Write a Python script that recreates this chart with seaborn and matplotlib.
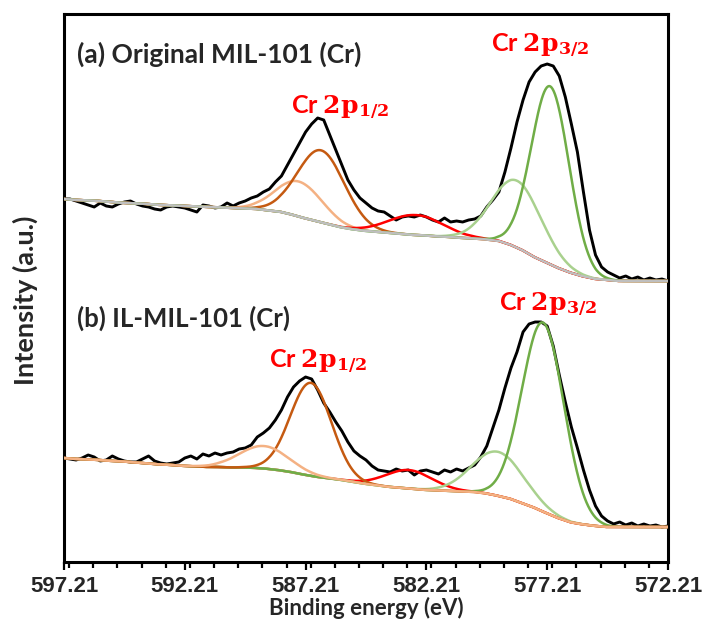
import numpy as np
import matplotlib
matplotlib.use("Agg")
import matplotlib.pyplot as plt
from matplotlib.ticker import MultipleLocator, FixedLocator
import seaborn as sns

# ---------------------------------------------------------------------------
# Cr 2p XPS spectra. Binding energy in eV (plotted high -> low), intensity a.u.
# ---------------------------------------------------------------------------
E_START = 597.21          # first sample of every series
RAW_STEP = 0.25           # spacing of the measured spectra (eV)
BG_STEP = 0.5             # spacing of the background values (eV)

tick_values = [597.21, 592.21, 587.21, 582.21, 577.21, 572.21]
tick_labels = ["597.21", "592.21", "587.21", "582.21", "577.21", "572.21"]

# (a) original MIL-101 (Cr): measured counts
raw_a = [363, 363, 361, 359, 357, 355, 359, 356, 355, 358,
         360, 361, 358, 356, 355, 353, 352, 355, 356, 355,
         354, 352, 350, 357, 356, 354, 355, 359, 356, 359,
         361, 364, 366, 370, 373, 380, 386, 397, 408, 419,
         430, 438, 444, 442, 427, 412, 397, 382, 372, 364,
         359, 354, 351, 350, 346, 342, 345, 346, 345, 347,
         345, 342, 340, 344, 340, 341, 340, 342, 343, 346,
         355, 362, 370, 390, 414, 440, 462, 480, 490, 496,
         498, 496, 486, 465, 438, 410, 370, 332, 307, 295,
         290, 287, 284, 286, 283, 285, 282, 284, 282, 283,
         281]

# (b) IL-MIL-101 (Cr): measured counts
raw_b = [104, 103, 102, 104, 107, 105, 101, 102, 106, 103,
         101, 100, 100, 103, 106, 101, 99, 98, 99, 100,
         104, 106, 103, 108, 106, 109, 107, 109, 110, 113,
         114, 117, 125, 129, 134, 142, 152, 165, 175, 181,
         185, 183, 172, 159, 150, 140, 131, 120, 111, 106,
         102, 96, 92, 91, 90, 93, 91, 92, 87, 91,
         92, 90, 88, 92, 90, 93, 91, 94, 97, 105,
         116, 134, 152, 174, 194, 210, 230, 238, 240, 240,
         236, 216, 187, 160, 135, 114, 92, 72, 56, 46,
         41, 38, 40, 37, 39, 36, 38, 36, 37, 35,
         36]

# Shirley-type backgrounds of the two fits
bg_a = [363, 362, 361.5, 361, 360, 359, 358.5, 358, 357, 356.5,
        356, 355.5, 355, 354.5, 354, 353.5, 353, 351.5, 350, 347,
        343.5, 340.5, 337.5, 334.5, 332.5, 331, 330, 329, 328, 327,
        326.5, 325.5, 325, 324, 323.5, 322.5, 321, 317, 311.5, 304.5,
        299, 293.5, 289, 285.5, 283, 282, 281, 281, 281, 281, 281]
bg_b = [104, 103, 102.5, 102, 101, 100.5, 99.5, 98.5, 97.5, 97,
        96, 95.5, 95, 95, 94.5, 94.5, 94, 93, 91.5, 89.5,
        87, 85, 83.5, 82, 80, 78, 76.5, 75, 74, 73,
        72, 71.5, 71, 70.5, 70, 68.5, 66, 63, 58.5, 54,
        48.5, 43.5, 39.5, 37.5, 36, 35, 35, 35, 35, 35, 35]

# fitted Gaussian components: centre (eV), FWHM (eV), height above background
comp_names = ["2p1/2 sat", "2p1/2", "loss", "2p3/2 sat", "2p3/2"]
comp_colors = ["#F4B183", "#C55A11", "#FF0000", "#A9D18E", "#70AD47"]
centre_a = [587.48, 586.57, 582.64, 578.46, 577.09]
fwhm_a = [2.25, 2.30, 2.65, 2.40, 1.85]
height_a = [35, 72, 20, 67, 178]
centre_b = [588.93, 586.99, 582.93, 579.25, 577.38]
fwhm_b = [2.40, 2.00, 2.30, 2.50, 2.05]
height_b = [22.5, 93, 18.5, 44, 189]

# ---------------------------------------------------------------------------
sns.set_style("white")
plt.rcParams["font.family"] = ["Lato", "DejaVu Sans"]
plt.rcParams["mathtext.fontset"] = "dejavuserif"

fig = plt.figure(figsize=(7.11, 6.37), dpi=100)
ax = fig.add_axes([64 / 711, 1 - 562 / 637, 604 / 711, 548 / 637])

e_raw = E_START - RAW_STEP * np.arange(len(raw_a))
e_bg = E_START - BG_STEP * np.arange(len(bg_a))
e_fine = np.linspace(572.21, 597.21, 1001)


def background(bg):
    # np.interp needs ascending abscissae
    return np.interp(e_fine, e_bg[::-1], np.asarray(bg, float)[::-1])


def component(bg_line, c, w, h):
    return bg_line + h * np.exp(-4 * np.log(2) * ((e_fine - c) / w) ** 2)


LW = 1.8

# --- spectrum (a) ---
sns.lineplot(x=e_raw, y=raw_a, color="black", linewidth=2.1, ax=ax, zorder=2)
bga = background(bg_a)
for i in [0, 1, 2, 3, 4]:
    sns.lineplot(x=e_fine, y=component(bga, centre_a[i], fwhm_a[i], height_a[i]),
                 color=comp_colors[i], linewidth=LW, ax=ax, zorder=3)
sns.lineplot(x=e_fine, y=bga, color="#BFBFBF", linewidth=LW, ax=ax, zorder=4)

# --- spectrum (b) ---
sns.lineplot(x=e_raw, y=raw_b, color="black", linewidth=2.1, ax=ax, zorder=2)
bgb = background(bg_b)
for i in [2, 3, 4, 1, 0]:
    sns.lineplot(x=e_fine, y=component(bgb, centre_b[i], fwhm_b[i], height_b[i]),
                 color=comp_colors[i], linewidth=LW, ax=ax, zorder=3)

# --- axes ---
ax.set_xlim(597.21, 572.21)
ax.set_ylim(0, 548)
ax.set_yticks([])
ax.xaxis.set_major_locator(FixedLocator(tick_values))
ax.set_xticklabels(tick_labels)
ax.xaxis.set_minor_locator(MultipleLocator(1.0))
ax.tick_params(axis="x", which="major", direction="out", length=6, width=1.6,
               color="black", pad=4, bottom=True)
ax.tick_params(axis="x", which="minor", direction="out", length=4.5, width=1.6,
               color="black", bottom=True)
for lab in ax.get_xticklabels():
    lab.set_fontfamily("Liberation Sans")
    lab.set_fontweight("bold")
    lab.set_fontsize(16)
for sp in ax.spines.values():
    sp.set_visible(True)
    sp.set_color("black")
    sp.set_linewidth(2.2)

# --- labels ---
fig.text(366 / 711, 1 - 608 / 637, "Binding energy (eV)", ha="center", va="center",
         fontsize=16, fontweight="bold")
fig.text(25 / 711, 1 - 300 / 637, "Intensity (a.u.)", ha="center", va="center",
         rotation=90, fontsize=19.5, fontweight="bold")

ax.text(0.022, 0.927, "(a) Original MIL-101 (Cr)", transform=ax.transAxes,
        ha="left", va="center", fontsize=19, fontweight="bold")
ax.text(0.022, 0.445, "(b) IL-MIL-101 (Cr)", transform=ax.transAxes,
        ha="left", va="center", fontsize=18.5, fontweight="bold")

red_kw = dict(ha="center", va="center", color="#FF0000", fontsize=18, fontweight="bold")
ax.text(577.51, 516, r"Cr $\mathbf{2p}_{\mathbf{3/2}}$", **red_kw)
ax.text(585.79, 454, r"Cr $\mathbf{2p}_{\mathbf{1/2}}$", **red_kw)
ax.text(577.18, 257, r"Cr $\mathbf{2p}_{\mathbf{3/2}}$", **red_kw)
ax.text(586.70, 200, r"Cr $\mathbf{2p}_{\mathbf{1/2}}$", **red_kw)

fig.savefig("out.png", dpi=100)
